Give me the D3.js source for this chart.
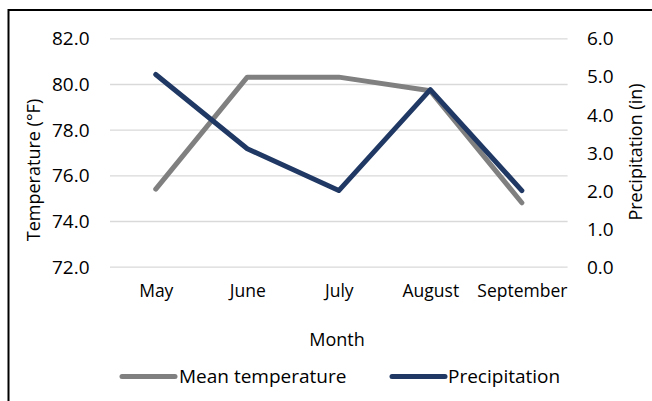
<!DOCTYPE html>
<html>
<head>
<meta charset="utf-8">
<script src="https://cdn.jsdelivr.net/npm/d3@7"></script>
<style>
  html, body { margin: 0; padding: 0; background: #fff; }
  svg { display: block; }
  text { font-family: "Open Sans", sans-serif; fill: #000; }
</style>
</head>
<body>
<svg id="chart" width="652" height="401"></svg>
<script>
// Monthly climate summary
const months = ["May", "June", "July", "August", "September"];
const meanTemperature = [75.4, 80.3, 80.3, 79.7, 74.8];   // °F
const precipitation = [5.05, 3.1, 2.0, 4.65, 2.0];        // inches
const tempTicks = [72, 74, 76, 78, 80, 82];
const precipTicks = [0, 1, 2, 3, 4, 5, 6];

const svg = d3.select("#chart");
const W = 652, H = 401;
const plot = { left: 110, right: 567.6, top: 38.3, bottom: 266.7 };

// Frame (top and left edges)
svg.append("line").attr("x1", 8.5).attr("x2", W).attr("y1", 10).attr("y2", 10)
  .attr("stroke", "#000").attr("stroke-width", 2);
svg.append("line").attr("x1", 8.5).attr("x2", 8.5).attr("y1", 9).attr("y2", H)
  .attr("stroke", "#000").attr("stroke-width", 2);

const x = d3.scalePoint().domain(months).range([plot.left, plot.right]).padding(0.5);
const yT = d3.scaleLinear().domain([72, 82]).range([plot.bottom, plot.top]);
const yP = d3.scaleLinear().domain([0, 6]).range([plot.bottom, plot.top]);

// Gridlines from the temperature axis
const grid = svg.append("g").attr("transform", `translate(${plot.left},0)`)
  .call(d3.axisLeft(yT).tickValues(tempTicks).tickSize(-(plot.right - plot.left)).tickFormat(""));
grid.select(".domain").remove();
grid.selectAll(".tick line").attr("stroke", "#D9D9D9").attr("stroke-width", 1.3);

// Left axis labels
const left = svg.append("g").attr("transform", `translate(89.5,0.5)`)
  .call(d3.axisLeft(yT).tickValues(tempTicks).tickSize(0).tickPadding(0).tickFormat(d3.format(".1f")));
left.select(".domain").remove();
left.selectAll("text").attr("font-size", 19).attr("font-family", "Open Sans").attr("fill", "#000");

// Right axis labels
const right = svg.append("g").attr("transform", `translate(587,0.5)`)
  .call(d3.axisRight(yP).tickValues(precipTicks).tickSize(0).tickPadding(0).tickFormat(d3.format(".1f")));
right.select(".domain").remove();
right.selectAll("text").attr("font-size", 19).attr("font-family", "Open Sans").attr("fill", "#000");

// Month labels
const bottom = svg.append("g").attr("transform", `translate(0,${plot.bottom})`)
  .call(d3.axisBottom(x).tickSize(0).tickPadding(18));
bottom.select(".domain").remove();
bottom.selectAll("text").attr("font-size", 17.5).attr("font-family", "Open Sans").attr("fill", "#000");

// Axis titles
svg.append("text").attr("transform", "translate(40,170) rotate(-90)")
  .attr("text-anchor", "middle").attr("font-size", 18).text("Temperature (°F)");
svg.append("text").attr("transform", "translate(642,152) rotate(-90)")
  .attr("text-anchor", "middle").attr("font-size", 18).text("Precipitation (in)");
svg.append("text").attr("x", 337).attr("y", 346)
  .attr("text-anchor", "middle").attr("font-size", 18).text("Month");

// Series lines
const tempLine = d3.line().x((d, i) => x(months[i])).y(d => yT(d));
const precLine = d3.line().x((d, i) => x(months[i])).y(d => yP(d));
const grey = "#808080", navy = "#1F3864";

svg.append("path").datum(meanTemperature).attr("d", tempLine)
  .attr("fill", "none").attr("stroke", grey).attr("stroke-width", 5)
  .attr("stroke-linecap", "round").attr("stroke-linejoin", "round");
svg.append("path").datum(precipitation).attr("d", precLine)
  .attr("fill", "none").attr("stroke", navy).attr("stroke-width", 5)
  .attr("stroke-linecap", "round").attr("stroke-linejoin", "round");

// Legend
const legend = [
  { name: "Mean temperature", color: grey, x1: 122, x2: 175, tx: 179 },
  { name: "Precipitation", color: navy, x1: 392, x2: 445, tx: 448 }
];
const lg = svg.append("g");
legend.forEach(d => {
  lg.append("line").attr("x1", d.x1).attr("x2", d.x2).attr("y1", 376.5).attr("y2", 376.5)
    .attr("stroke", d.color).attr("stroke-width", 5).attr("stroke-linecap", "round");
  lg.append("text").attr("x", d.tx).attr("y", 382.5).attr("font-size", 19).text(d.name);
});
</script>
</body>
</html>
